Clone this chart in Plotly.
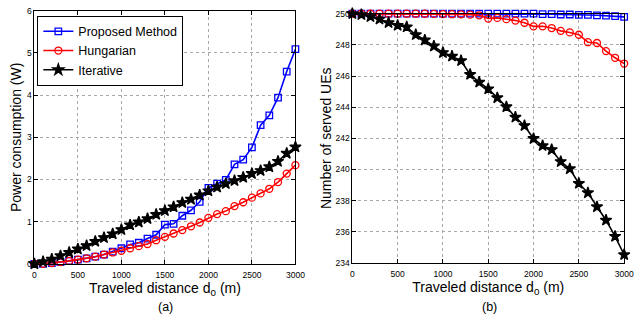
import plotly.graph_objects as go

distance = [i * 100 for i in range(31)]

# (a) Power consumption (W)
power_proposed = [0.0, 0.0, 0.02, 0.04, 0.07, 0.10, 0.13, 0.17, 0.22, 0.29, 0.37,
                  0.46, 0.50, 0.60, 0.69, 0.93, 0.95, 1.14, 1.27, 1.47, 1.80,
                  1.90, 1.99, 2.36, 2.47, 2.76, 3.29, 3.52, 3.94, 4.56, 5.09]
power_hungarian = [0.0, 0.0, 0.02, 0.04, 0.07, 0.10, 0.13, 0.17, 0.22, 0.27, 0.31,
                   0.37, 0.42, 0.47, 0.56, 0.64, 0.72, 0.80, 0.89, 0.98, 1.09,
                   1.18, 1.25, 1.37, 1.46, 1.57, 1.67, 1.78, 1.94, 2.14, 2.34]
power_iterative = [0.0, 0.05, 0.11, 0.19, 0.27, 0.35, 0.43, 0.53, 0.62, 0.71, 0.81,
                   0.92, 0.99, 1.07, 1.17, 1.26, 1.35, 1.45, 1.53, 1.63, 1.73,
                   1.82, 1.90, 1.97, 2.05, 2.14, 2.21, 2.30, 2.43, 2.62, 2.77]

# (b) Number of served UEs
ues_proposed = [250, 250, 250, 250, 250, 250, 250, 250, 250, 250, 250,
                250, 250, 250, 250, 250, 250, 250, 250, 250, 250,
                249.98, 249.97, 249.95, 249.95, 249.93, 249.92, 249.9, 249.88, 249.85, 249.8]
ues_hungarian = [250, 250, 250, 250, 250, 250, 250, 250, 250, 249.99, 249.98,
                 249.97, 249.96, 249.94, 249.9, 249.69, 249.73, 249.65, 249.56, 249.42, 249.19,
                 249.19, 249.08, 248.9, 248.8, 248.65, 248.17, 248.12, 247.6, 247.17, 246.8]
ues_iterative = [250, 249.94, 249.81, 249.65, 249.42, 249.25, 249.15, 248.65, 248.31, 247.92, 247.5,
                 247.27, 246.98, 246.1, 245.6, 245.17, 244.6, 244.02, 243.35, 242.81, 241.98,
                 241.52, 241.27, 240.5, 240.04, 239.1, 238.5, 237.6, 236.74, 235.7, 234.52]

x_ticks = [0, 500, 1000, 1500, 2000, 2500, 3000]
power_ticks = [0, 1, 2, 3, 4, 5, 6]
ues_ticks = [234, 236, 238, 240, 242, 244, 246, 248, 250]

series_names = ["Proposed Method", "Hungarian", "Iterative"]
colors = ["#0000FF", "#FF0000", "#000000"]
symbols = ["square-open", "circle-open", "star"]
msizes = [6.5, 7, 8.5]

W, H = 642, 327
FONT = "Liberation Sans, Arial, Helvetica, sans-serif"

fig = go.Figure()

for k, ys in enumerate([power_proposed, power_hungarian, power_iterative]):
    fig.add_trace(go.Scatter(
        x=distance, y=ys, mode="lines+markers", name=series_names[k],
        line=dict(color=colors[k], width=1.6),
        marker=dict(symbol=symbols[k], size=msizes[k], color=colors[k],
                    line=dict(color=colors[k], width=1.3)),
        cliponaxis=False, xaxis="x", yaxis="y", showlegend=True))

for k, ys in enumerate([ues_proposed, ues_hungarian, ues_iterative]):
    fig.add_trace(go.Scatter(
        x=distance, y=ys, mode="lines+markers", name=series_names[k],
        line=dict(color=colors[k], width=1.6),
        marker=dict(symbol=symbols[k], size=msizes[k], color=colors[k],
                    line=dict(color=colors[k], width=1.3)),
        cliponaxis=False, xaxis="x2", yaxis="y2", showlegend=False))

axis_common = dict(
    showline=True, linecolor="black", linewidth=1, mirror="allticks",
    ticks="inside", ticklen=4, tickcolor="black", tickwidth=1,
    showgrid=True, gridcolor="#a8a8a8", griddash="dot", gridwidth=1,
    zeroline=False, tickfont=dict(family=FONT, size=8.5, color="black"),
)

title_font = dict(family=FONT, size=14, color="black")

fig.update_layout(
    width=W, height=H,
    margin=dict(l=0, r=0, t=0, b=0),
    paper_bgcolor="white", plot_bgcolor="white",
    font=dict(family=FONT, color="black"),
    hovermode=False,
    xaxis=dict(domain=[33 / W, 299 / W], range=[0, 3000], tickvals=x_ticks,
               anchor="y", ticklabelstandoff=3,
               title=dict(text="Traveled distance d<sub>0</sub> (m)", font=title_font, standoff=3),
               **axis_common),
    yaxis=dict(domain=[1 - 267 / H, 1 - 6 / H], range=[0, 6], tickvals=power_ticks,
               anchor="x",
               title=dict(text="Power consumption (W)", font=title_font, standoff=2),
               **axis_common),
    xaxis2=dict(domain=[357 / W, 634 / W], range=[0, 3000], tickvals=x_ticks,
                anchor="y2", ticklabelstandoff=3,
                title=dict(text="Traveled distance d<sub>0</sub> (m)", font=title_font, standoff=3),
                **axis_common),
    yaxis2=dict(domain=[1 - 266 / H, 1 - 9 / H], range=[234, 250], tickvals=ues_ticks,
                anchor="x2",
                title=dict(text="Number of served UEs", font=title_font, standoff=0),
                **axis_common),
    legend=dict(x=36 / W, y=1 - 11 / H, xanchor="left", yanchor="top",
                bgcolor="white", bordercolor="black", borderwidth=1,
                font=dict(family=FONT, size=12.5, color="black"),
                itemwidth=30, tracegroupgap=0),
    showlegend=True,
)

def ann(text, x, y, size):
    fig.add_annotation(text=text, x=x / W, y=1 - y / H, xref="paper", yref="paper",
                       showarrow=False, xanchor="center", yanchor="middle",
                       font=dict(family=FONT, size=size, color="black"))

ann("(a)", 167, 312, 12.5)
ann("(b)", 497, 312, 12.5)

fig.write_html("out.html", config={"displayModeBar": False},
               post_script="document.body.style.margin='0';document.body.style.overflow='hidden';")
